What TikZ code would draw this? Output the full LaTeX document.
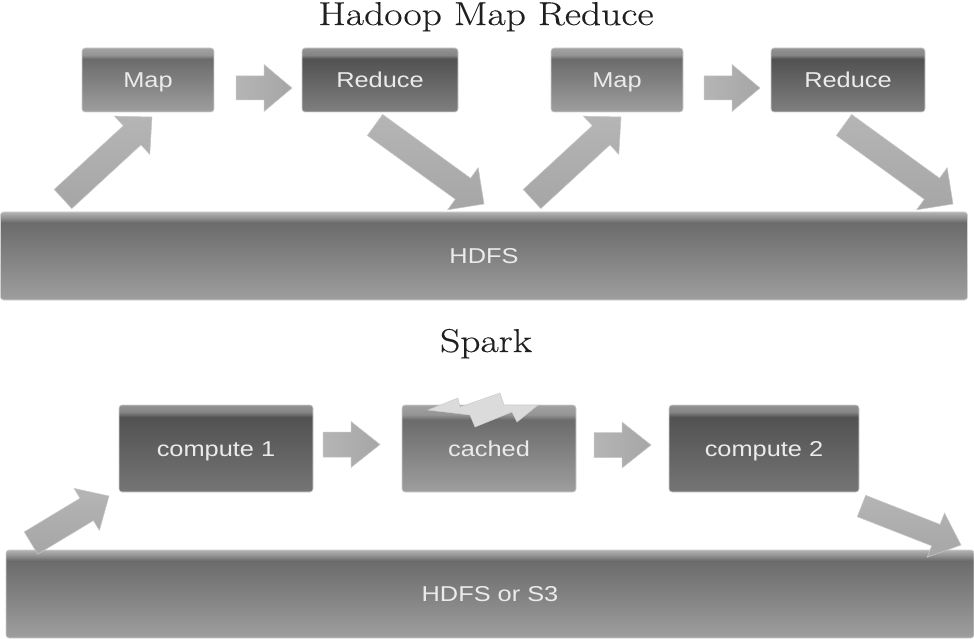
\documentclass[tikz,border=0pt]{standalone}
\usepackage{fontspec}
\usetikzlibrary{calc}
\newfontfamily\lblfont[FakeStretch=1.18]{Liberation Sans}
\newfontfamily\titlefont[FakeStretch=1.2,FakeBold=0.4]{Latin Modern Roman}
\pgfdeclareverticalshading{boxmid}{100bp}{color(0bp)=(black!38); color(25bp)=(black!38); color(66.5bp)=(black!58); color(69.5bp)=(black!42); color(75bp)=(black!36); color(100bp)=(black!36)}
\pgfdeclareverticalshading{boxdark}{100bp}{color(0bp)=(black!50); color(25bp)=(black!50); color(66.5bp)=(black!68); color(69.5bp)=(black!48); color(75bp)=(black!42); color(100bp)=(black!42)}
\pgfdeclareverticalshading{boxdarker}{100bp}{color(0bp)=(black!54); color(25bp)=(black!54); color(68bp)=(black!68); color(71bp)=(black!48); color(75bp)=(black!42); color(100bp)=(black!42)}
\pgfdeclareverticalshading{barmid}{100bp}{color(0bp)=(black!38); color(25bp)=(black!38); color(69bp)=(black!58); color(72bp)=(black!42); color(75bp)=(black!30); color(100bp)=(black!30)}
\pgfdeclareverticalshading{arrowshade}{100bp}{color(0bp)=(black!38); color(100bp)=(black!26)}
\tikzset{
  x=1pt,y=-1pt,
  panel/.style={anchor=north west,inner sep=0pt,outer sep=0pt,rounded corners=3pt,text=black!8,font=\lblfont\fontsize{21.5}{24}\selectfont,draw=black!18,line width=0.6pt,text height=15pt,text depth=0pt},
  midbox/.style={panel,shading=boxmid},
  darkbox/.style={panel,shading=boxdark},
  darkerbox/.style={panel,shading=boxdarker},
  bar/.style={panel,shading=barmid},
  titletext/.style={anchor=base,font=\titlefont\fontsize{33}{38}\selectfont,text=black!88,inner sep=0pt},
  blockshape/.style={shading=arrowshade,shading angle=#1,draw=black!22,line width=0.5pt},
  bolt/.style={fill=black!14,draw=black!20,line width=0.5pt,line join=miter}
}
% tail, tip, shaft half width, head half width, head length, shading angle
\newcommand{\blockarrow}[6]{%
  \coordinate (hb) at ($(#2)!#5pt!(#1)$);
  \path[blockshape=#6]
    ($(#1)!#3pt!90:(#2)$) -- ($(hb)!#3pt!-90:(#1)$) -- ($(hb)!#4pt!-90:(#1)$) -- (#2)
    -- ($(hb)!#4pt!90:(#1)$) -- ($(hb)!#3pt!90:(#1)$) -- ($(#1)!#3pt!-90:(#2)$) -- cycle;
}
\begin{document}
\begin{tikzpicture}
\useasboundingbox (0,0) rectangle (974,639);
\fill[white] (0,0) rectangle (974,639);
\node[titletext] (t1) at (486,25) {Hadoop Map Reduce};
\node[titletext] (t2) at (486,352) {Spark};

\node[midbox,minimum width=132pt,minimum height=64pt] (m1) at (82,48) {Map};
\node[darkbox,minimum width=156pt,minimum height=64pt] (r1) at (302,48) {Reduce};
\node[midbox,minimum width=132pt,minimum height=64pt] (m2) at (551,48) {Map};
\node[darkbox,minimum width=154pt,minimum height=64pt] (r2) at (771,48) {Reduce};
\node[bar,minimum width=967pt,minimum height=88pt] (h1) at (0.5,212) {HDFS};

\node[darkerbox,minimum width=194pt,minimum height=87pt] (c1) at (119,405) {compute 1};
\node[midbox,minimum width=174pt,minimum height=87pt] (ca) at (402,405) {cached};
\node[darkerbox,minimum width=190pt,minimum height=87pt] (c2) at (669,405) {compute 2};
\node[bar,minimum width=968pt,minimum height=88pt] (h2) at (6,550) {HDFS or S3};

\path[bolt] (428,410) -- (458,398) -- (460,407) -- (500,393) -- (504,405) -- (538,405) -- (517,422) -- (512,412) -- (475,427) -- (470,415) -- cycle;

\coordinate (a1s) at (63,199); \coordinate (a1e) at (152,117);
\coordinate (a2s) at (236,88); \coordinate (a2e) at (292,88);
\coordinate (a3s) at (375,125); \coordinate (a3e) at (484,204);
\coordinate (a4s) at (532,199); \coordinate (a4e) at (621,117);
\coordinate (a5s) at (704,88); \coordinate (a5e) at (760,88);
\coordinate (a6s) at (844,125); \coordinate (a6e) at (953,204);
\coordinate (b1s) at (31,543); \coordinate (b1e) at (109,496);
\coordinate (b2s) at (323,444.5); \coordinate (b2e) at (380,444.5);
\coordinate (b3s) at (594,445); \coordinate (b3e) at (651,445);
\coordinate (b4s) at (861.5,506); \coordinate (b4e) at (961,545);
\blockarrow{a1s}{a1e}{13}{26}{27}{0}
\blockarrow{a2s}{a2e}{12}{23.5}{28}{90}
\blockarrow{a3s}{a3e}{13}{26}{26}{0}
\blockarrow{a4s}{a4e}{13}{26}{27}{0}
\blockarrow{a5s}{a5e}{12}{23.5}{28}{90}
\blockarrow{a6s}{a6e}{13}{26}{26}{0}
\blockarrow{b1s}{b1e}{13}{24.5}{26}{0}
\blockarrow{b2s}{b2e}{12.5}{23}{29}{90}
\blockarrow{b3s}{b3e}{12.5}{23}{29}{90}
\blockarrow{b4s}{b4e}{11.5}{23.7}{27}{0}
\end{tikzpicture}
\end{document}
